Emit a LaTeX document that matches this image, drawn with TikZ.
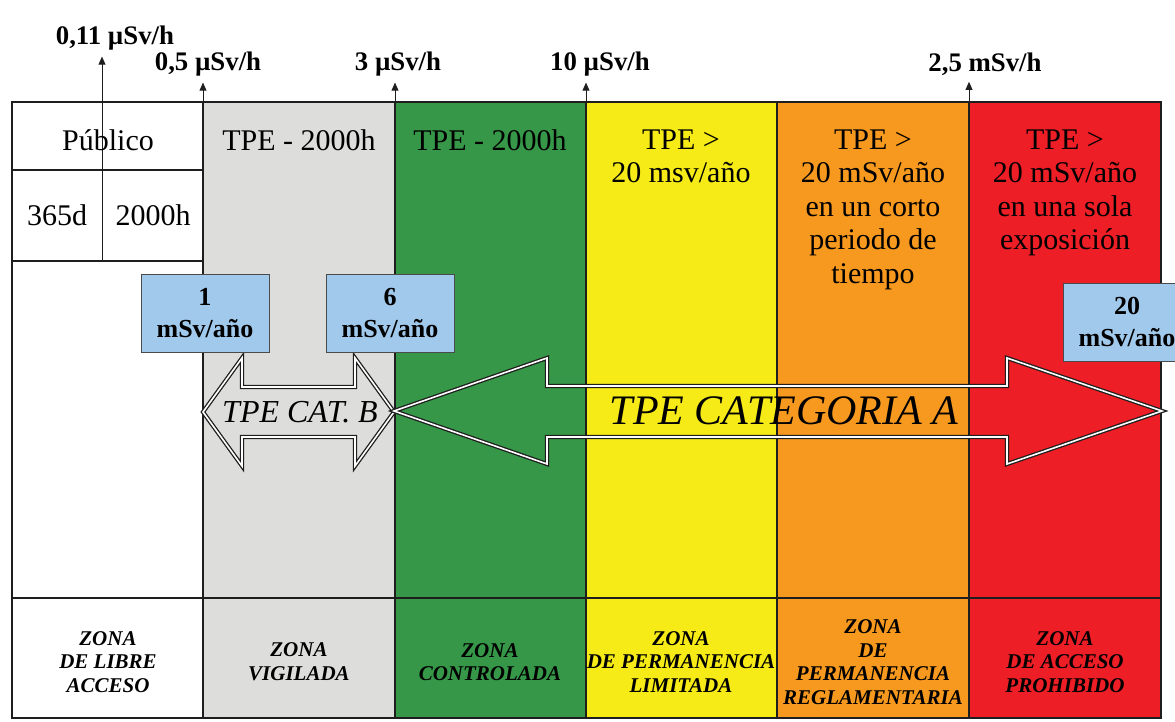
\documentclass[tikz,border=0pt]{standalone}
\usepackage{fontspec}
\setmainfont{Liberation Serif}
\usetikzlibrary{arrows.meta,positioning,calc}
\definecolor{ink}{RGB}{30,30,30}
\definecolor{vig}{RGB}{221,221,219}
\definecolor{ctl}{RGB}{53,151,71}
\definecolor{lim}{RGB}{246,235,22}
\definecolor{rgl}{RGB}{247,153,31}
\definecolor{pro}{RGB}{237,30,37}
\definecolor{sky}{RGB}{160,201,236}
\tikzset{
  rate/.style={font=\fontsize{13.4}{15}\selectfont\bfseries,inner sep=1pt},
  cell/.style={font=\fontsize{15}{16.8}\selectfont,align=center,anchor=north,inner sep=0pt},
  zone/.style={font=\fontsize{10.5}{11.8}\selectfont\bfseries\itshape,align=center},
  dose/.style={draw=ink!80,fill=sky,font=\fontsize{13}{16}\selectfont\bfseries,align=center,
    minimum width=64pt,minimum height=39pt,inner sep=1pt},
  grid/.style={draw=ink,line width=0.6pt},
  up/.style={-{Triangle[length=4pt,width=3.4pt]},ink,line width=0.5pt,shorten >=2pt},
  fat/.style={draw=ink,line width=0.65pt,double=white,double distance=0.8pt,line join=miter},
  cat/.style={font=\fontsize{16}{18}\selectfont\itshape,inner sep=0pt},
}

\begin{document}
\begin{tikzpicture}[x=0.5pt,y=-0.5pt]
  \useasboundingbox (0,0) rectangle (1175,722);
  % zone colours
  \fill[vig] (203,102) rectangle (395,718);
  \fill[ctl] (395,102) rectangle (586,718);
  \fill[lim] (586,102) rectangle (777,718);
  \fill[rgl] (777,102) rectangle (969,718);
  \fill[pro] (969,102) rectangle (1161,718);
  % table
  \draw[grid] (12,102) rectangle (1161,718);
  \draw[grid] (12,598) -- (1161,598);
  \foreach \x in {203,395,586,777,969} \draw[grid] (\x,102) -- (\x,718);
  \draw[grid] (12,170) -- (203,170) (12,261) -- (203,261);

  % dose rate limits
  \node[rate] (r011) at (115,38) {0,11 µSv/h};
  \node[rate] (r05) at (208,64) {0,5 µSv/h};
  \node[rate] (r3) at (398,64) {3 µSv/h};
  \node[rate] (r10) at (600,64) {10 µSv/h};
  \node[rate] (r25) at (985,64) {2,5 mSv/h};
  \coordinate (t011) at (102,261);
  \coordinate (t05) at (203,102);
  \coordinate (t3) at (395,102);
  \coordinate (t10) at (586,102);
  \coordinate (t25) at (969,102);
  \draw[up] (t011) -- (t011 |- r011.south);
  \draw[up] (t05) -- (t05 |- r05.south);
  \draw[up] (t3) -- (t3 |- r3.south);
  \draw[up] (t10) -- (t10 |- r10.south);
  \draw[up] (t25) -- (t25 |- r25.south);

  % cells
  \node[cell] (pub) at (108,129) {Público};
  \node[cell] (d365) at (57,204) {365d};
  \node[cell] (h2000) at (153,204) {2000h};
  \node[cell] (tpev) at (299,129) {TPE - 2000h};
  \node[cell] (tpec) at (490,129) {TPE - 2000h};
  \node[cell] (tpel) at (681,129) {TPE >\\20 msv/año};
  \node[cell] (tper) at (873,129) {TPE >\\20 mSv/año\\en un corto\\periodo de\\tiempo};
  \node[cell] (tpep) at (1065,129) {TPE >\\20 mSv/año\\en una sola\\exposición};

  % worker categories
  \draw[fat] (203,412) -- (242,358) -- (242,387) -- (355,387) -- (355,358) -- (394,412)
    -- (355,466) -- (355,437) -- (242,437) -- (242,466) -- cycle;
  \draw[fat] (394,411) -- (547,358) -- (547,386) -- (1007,386) -- (1007,358) -- (1162,411)
    -- (1007,464) -- (1007,437) -- (547,437) -- (547,464) -- cycle;
  \node[cat] (catb) at (300,412) {TPE CAT. B};
  \node[cat,font=\fontsize{21}{24}\selectfont\itshape] (cata) at (784,411) {TPE CATEGORIA A};

  % annual doses
  \node[dose] (d1) at (205,313) {1\\mSv/año};
  \node[dose] (d6) at (390,313) {6\\mSv/año};
  \node[dose] (d20) at (1127,322) {20\\mSv/año};

  % zones
  \node[zone] (zl) at (108,662) {ZONA\\DE LIBRE\\ACCESO};
  \node[zone] (zv) at (299,662) {ZONA\\VIGILADA};
  \node[zone] (zc) at (490,662) {ZONA\\CONTROLADA};
  \node[zone] (zpl) at (681,662) {ZONA\\DE PERMANENCIA\\LIMITADA};
  \node[zone] (zpr) at (873,662) {ZONA\\DE\\PERMANENCIA\\REGLAMENTARIA};
  \node[zone] (zap) at (1065,662) {ZONA\\DE ACCESO\\PROHIBIDO};
\end{tikzpicture}
\end{document}
